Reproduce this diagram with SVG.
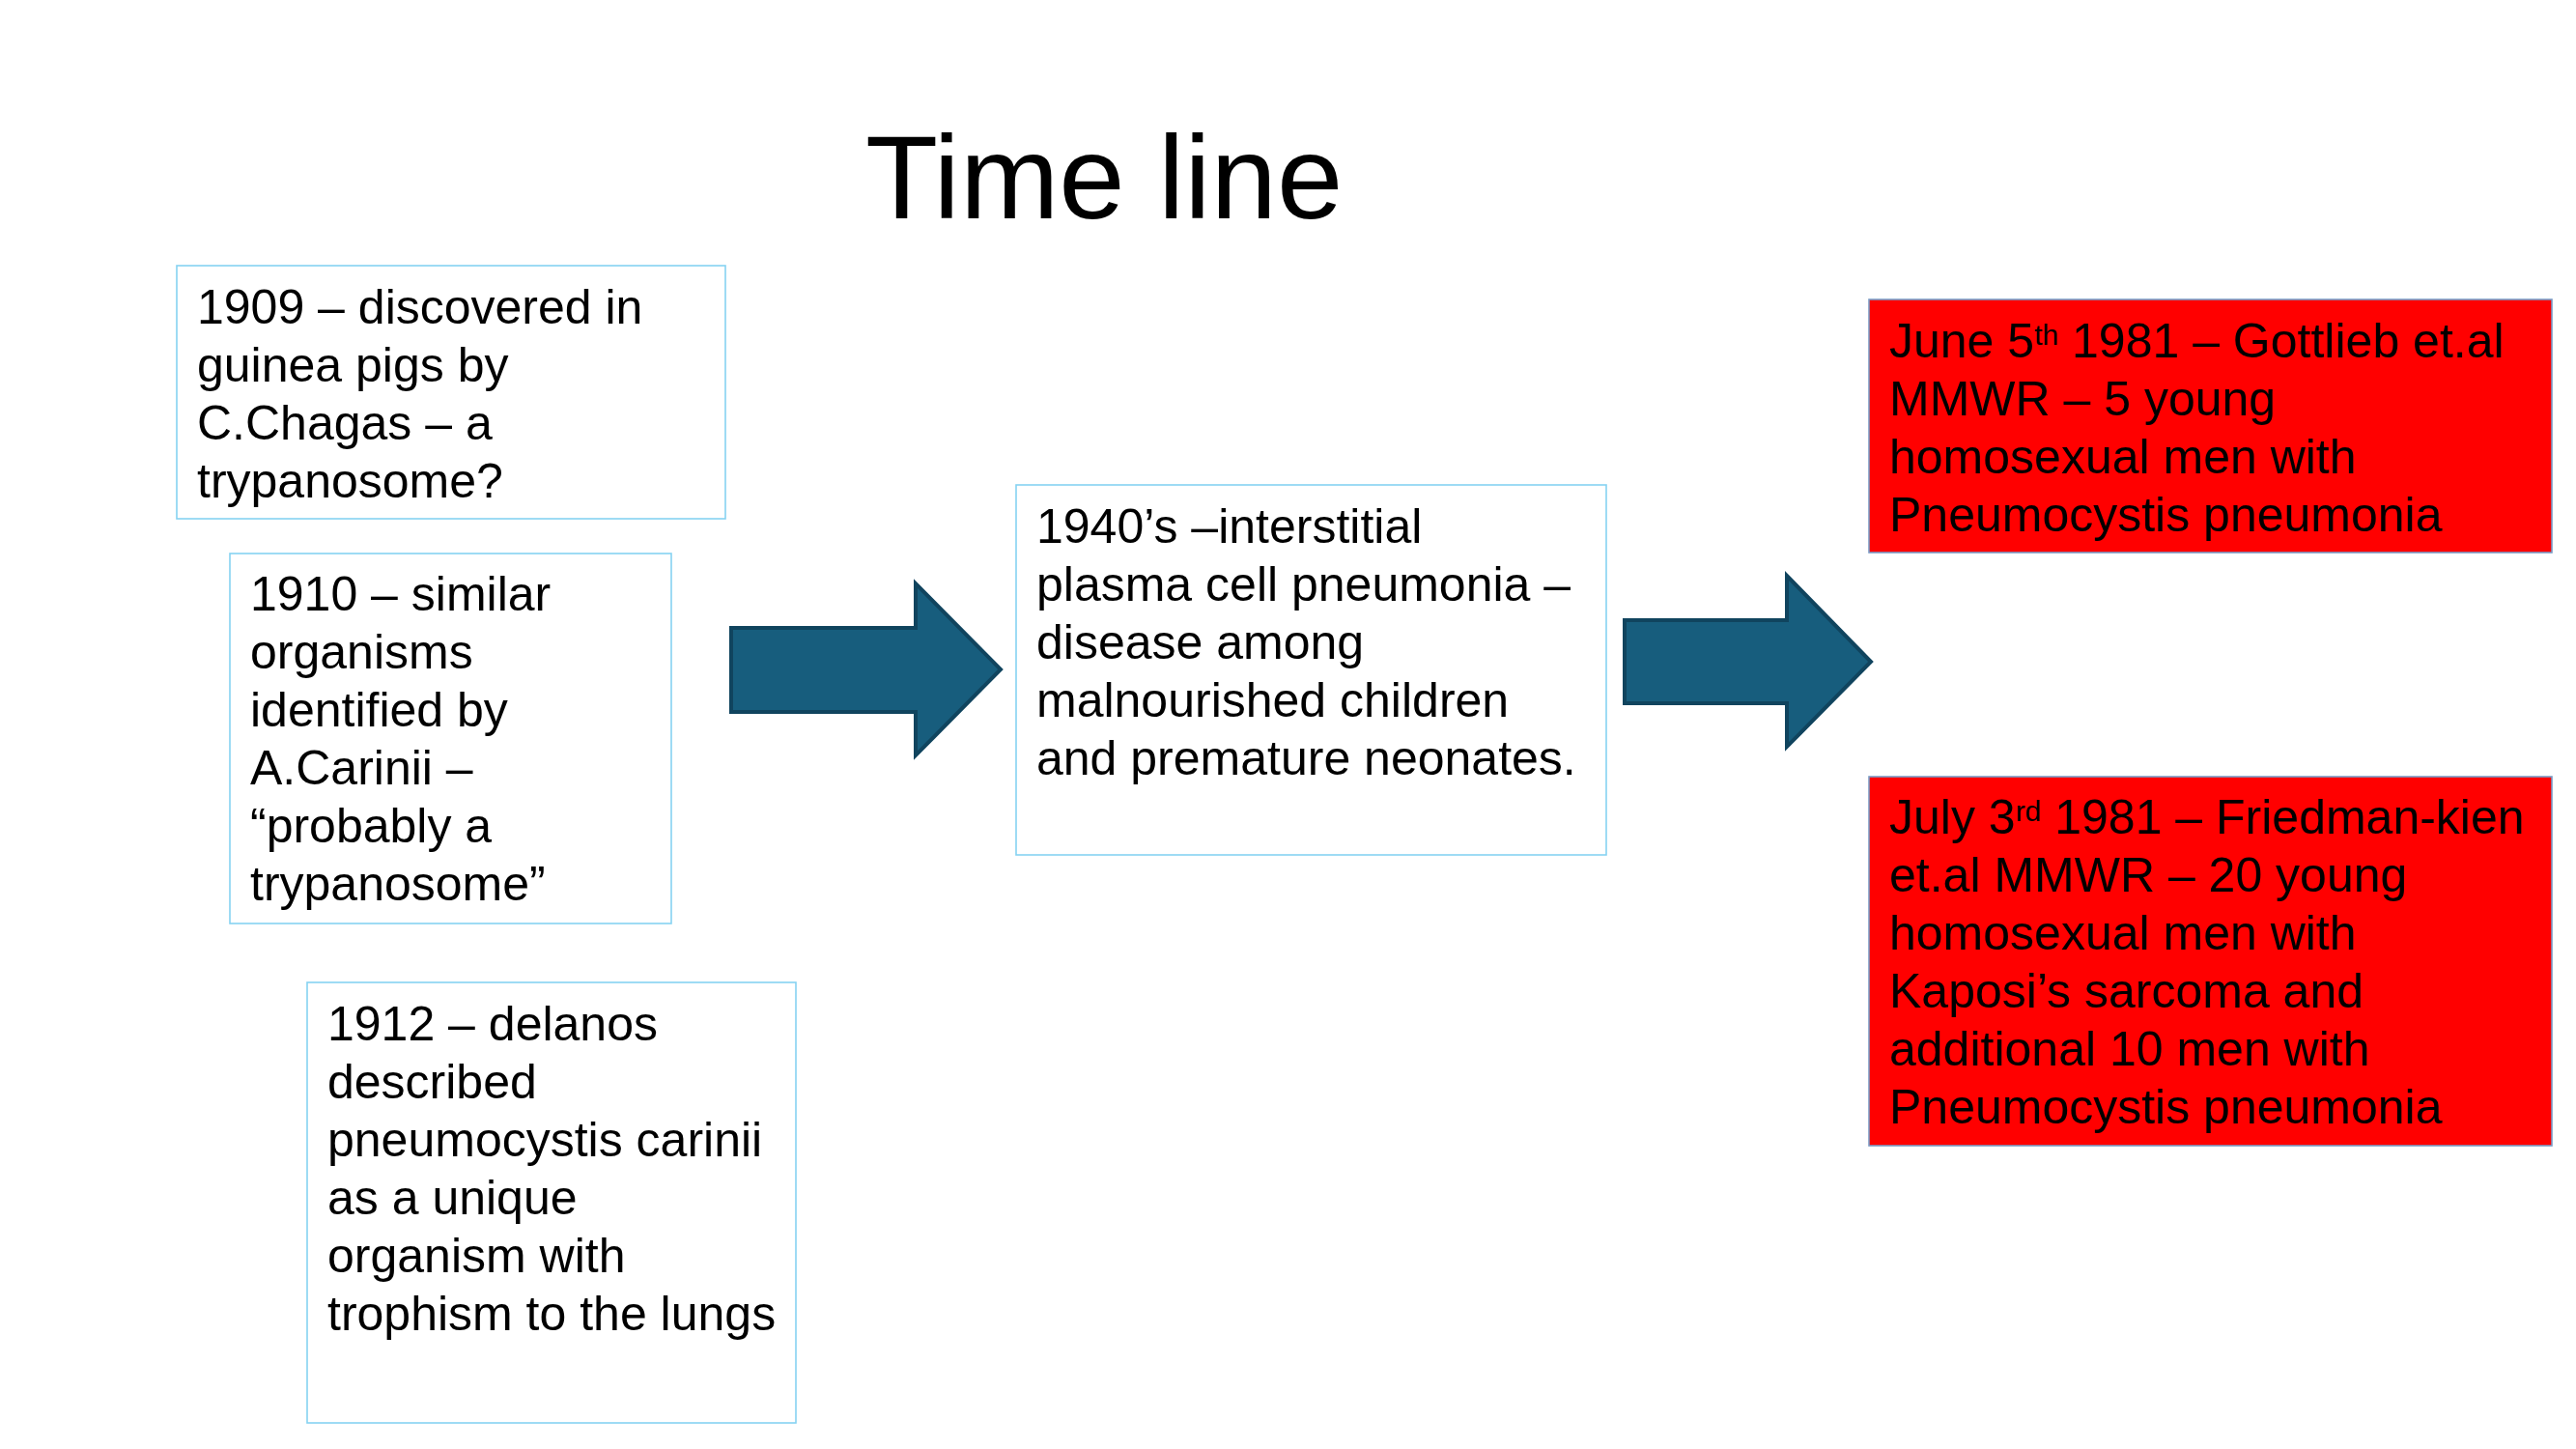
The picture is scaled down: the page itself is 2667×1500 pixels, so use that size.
<svg xmlns="http://www.w3.org/2000/svg" width="2667" height="1500" viewBox="0 0 2667 1500">
<style>
text{font-family:"Liberation Sans",Arial,sans-serif;fill:#000}
.t{font-size:50px}
.title{font-size:123px}
.wbox{fill:#fff;stroke:#86D3F2;stroke-width:1.6}
.rbox{fill:#FF0000;stroke:#7A9CC6;stroke-width:1.6}
.arrow{fill:#175D7D;stroke:#10445E;stroke-width:4;stroke-linejoin:miter}
.sup{font-size:30px}
</style>
<rect width="2667" height="1500" fill="#fff"/>
<text class="title" x="896" y="226">Time line</text>

<g id="connectors">
<polygon class="arrow" points="757,650 948,650 948,604 1036,693 948,782 948,737 757,737"/>
<polygon class="arrow" points="1682,642 1850,642 1850,596 1937,685 1850,773 1850,728 1682,728"/>
</g>

<g id="n1909">
<rect class="wbox" x="183" y="275" width="568" height="262"/>
<text class="t" x="204" y="335">1909 – discovered in</text>
<text class="t" x="204" y="395">guinea pigs by</text>
<text class="t" x="204" y="455">C.Chagas – a</text>
<text class="t" x="204" y="515">trypanosome?</text>
</g>

<g id="n1910">
<rect class="wbox" x="238" y="573" width="457" height="383"/>
<text class="t" x="259" y="632">1910 – similar</text>
<text class="t" x="259" y="692">organisms</text>
<text class="t" x="259" y="752">identified by</text>
<text class="t" x="259" y="812">A.Carinii –</text>
<text class="t" x="259" y="872">“probably a</text>
<text class="t" x="259" y="932">trypanosome”</text>
</g>

<g id="n1912">
<rect class="wbox" x="318" y="1017" width="506" height="456"/>
<text class="t" x="339" y="1077">1912 – delanos</text>
<text class="t" x="339" y="1137">described</text>
<text class="t" x="339" y="1197">pneumocystis carinii</text>
<text class="t" x="339" y="1257">as a unique</text>
<text class="t" x="339" y="1317">organism with</text>
<text class="t" x="339" y="1377">trophism to the lungs</text>
</g>

<g id="n1940">
<rect class="wbox" x="1052" y="502" width="611" height="383"/>
<text class="t" x="1073" y="562">1940’s –interstitial</text>
<text class="t" x="1073" y="622">plasma cell pneumonia –</text>
<text class="t" x="1073" y="682">disease among</text>
<text class="t" x="1073" y="742">malnourished children</text>
<text class="t" x="1073" y="802">and premature neonates.</text>
</g>

<g id="nJune">
<rect class="rbox" x="1935" y="310" width="707" height="262"/>
<text class="t" x="1956" y="370">June 5<tspan class="sup" dy="-13">th</tspan><tspan dy="13"> 1981 – Gottlieb et.al</tspan></text>
<text class="t" x="1956" y="430">MMWR – 5 young</text>
<text class="t" x="1956" y="490">homosexual men with</text>
<text class="t" x="1956" y="550">Pneumocystis pneumonia</text>
</g>

<g id="nJuly">
<rect class="rbox" x="1935" y="804" width="707" height="382"/>
<text class="t" x="1956" y="863">July 3<tspan class="sup" dy="-13">rd</tspan><tspan dy="13"> 1981 – Friedman-kien</tspan></text>
<text class="t" x="1956" y="923">et.al MMWR – 20 young</text>
<text class="t" x="1956" y="983">homosexual men with</text>
<text class="t" x="1956" y="1043">Kaposi’s sarcoma and</text>
<text class="t" x="1956" y="1103">additional 10 men with</text>
<text class="t" x="1956" y="1163">Pneumocystis pneumonia</text>
</g>
</svg>
